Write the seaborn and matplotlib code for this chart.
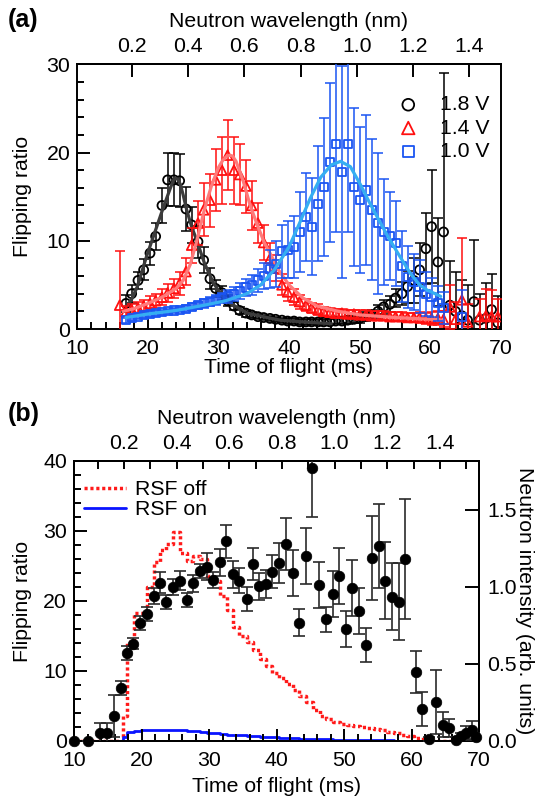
import numpy as np
import matplotlib
matplotlib.use("Agg")
import matplotlib.pyplot as plt
from matplotlib.ticker import MultipleLocator, FormatStrFormatter
import seaborn as sns

nan = np.nan

# ---------------- panel (a): flipping ratio for three RSF voltages ----------------
tof_a = [16.0, 16.9, 17.7, 18.6, 19.4, 20.3, 21.1, 22.0, 22.8, 23.7,
         24.5, 25.4, 26.2, 27.1, 27.9, 28.8, 29.6, 30.5, 31.3, 32.2,
         33.0, 33.9, 34.7, 35.6, 36.4, 37.3, 38.1, 39.0, 39.8, 40.7,
         41.5, 42.4, 43.2, 44.1, 44.9, 45.8, 46.6, 47.5, 48.3, 49.2,
         50.0, 50.9, 51.7, 52.6, 53.4, 54.3, 55.1, 56.0, 56.8, 57.7,
         58.5, 59.4, 60.2, 61.1, 61.9, 62.8, 63.6, 64.5, 65.3, 66.2,
         67.0, 67.9, 68.7, 69.6]

ratio_18 = [nan, 2.9, 4.0, 5.5, 6.7, 8.6, 10.5, 14.0, 16.9, 16.9,
            16.8, 13.6, 11.8, 9.9, 7.8, 5.7, 4.6, 4.1, 3.2, 2.6,
            2.1, 1.8, 1.6, 1.4, 1.3, 1.2, 1.1, 1.0, 0.9, 0.9,
            0.8, 0.8, 0.8, 0.8, 0.8, 0.8, 0.9, 0.9, 1.0, 1.1,
            1.2, 1.4, 1.6, 2.0, 2.5, 2.8, 3.5, 4.0, 4.8, 5.5,
            6.7, 9.1, 11.6, 7.6, 11.0, 2.7, 2.0, 1.5, 1.0, 3.1,
            1.0, 1.2, 2.2, 0.7]
err_18 = [nan, 1.0, 1.0, 1.0, 1.2, 1.3, 1.5, 2.0, 3.0, 3.0,
          3.0, 2.5, 2.0, 1.8, 1.5, 1.2, 1.0, 0.8, 0.6, 0.5,
          0.4, 0.4, 0.3, 0.3, 0.3, 0.3, 0.3, 0.3, 0.3, 0.3,
          0.3, 0.3, 0.3, 0.3, 0.3, 0.3, 0.3, 0.3, 0.4, 0.4,
          0.5, 0.5, 0.6, 0.7, 0.8, 0.9, 1.0, 1.3, 1.8, 2.5,
          3.0, 4.0, 6.4, 5.0, 18.0, 5.0, 4.5, 4.0, 4.0, 7.0,
          3.0, 4.0, 4.0, 3.0]

ratio_14 = [2.7, 2.0, 2.2, 2.4, 2.6, 2.9, 3.2, 3.6, 4.1, 4.6,
            5.2, 6.5, 9.5, 12.0, 13.5, 14.6, 16.9, 18.0, 19.7, 18.0,
            17.5, 16.2, 14.0, 12.0, 9.8, 8.0, 6.9, 5.0, 4.2, 3.6,
            3.1, 2.7, 2.4, 2.2, 2.0, 1.9, 1.8, 1.8, 1.7, 1.7,
            1.6, 1.6, 1.5, 1.5, 1.5, 1.4, 1.4, 1.4, 1.3, 1.3,
            1.3, 1.2, 1.2, 1.2, 1.1, 2.5, 1.1, 3.3, 0.8, nan,
            1.4, 1.5, 1.4, 1.4]
err_14 = [6.1, 0.6, 0.6, 0.7, 0.7, 0.8, 0.8, 0.9, 1.0, 1.1,
          1.3, 1.5, 2.0, 2.5, 3.0, 3.0, 3.5, 3.8, 4.0, 3.8,
          3.5, 3.0, 2.8, 2.3, 2.0, 1.7, 1.5, 1.2, 1.0, 0.9,
          0.8, 0.7, 0.6, 0.6, 0.5, 0.5, 0.5, 0.5, 0.5, 0.5,
          0.5, 0.5, 0.5, 0.5, 0.5, 0.5, 0.5, 0.5, 0.5, 0.5,
          0.6, 0.6, 0.7, 0.8, 0.9, 2.5, 2.0, 7.0, 2.0, nan,
          2.0, 3.0, 3.0, 2.0]

ratio_10 = [nan, 1.0, 1.2, 1.4, 1.6, 1.7, 1.8, 1.9, 2.0, 2.1,
            2.2, 2.3, 2.5, 2.7, 2.9, 3.1, 3.3, 3.5, 3.7, 4.0,
            4.3, 4.7, 5.0, 5.5, 6.0, 6.8, 7.4, 8.8, 9.0, 9.3,
            11.0, 12.7, 11.6, 14.2, 16.1, 18.9, 21.0, 17.8, 21.0, 16.1,
            14.6, 15.7, 13.5, 12.0, 11.0, 10.5, 9.7, 7.1, 5.9, 5.3,
            4.8, 4.0, 3.6, 2.9, 2.4, nan, nan, 1.4, nan, nan,
            nan, nan, nan, nan]
err_10 = [nan, 0.3, 0.3, 0.3, 0.3, 0.3, 0.3, 0.3, 0.3, 0.3,
          0.3, 0.4, 0.4, 0.4, 0.5, 0.5, 0.6, 0.6, 0.7, 0.8,
          0.9, 1.0, 1.1, 1.3, 1.5, 2.2, 2.6, 3.0, 3.2, 3.5,
          4.5, 5.0, 5.5, 6.5, 7.8, 9.0, 10.0, 12.0, 10.0, 9.0,
          8.3, 8.5, 8.0, 8.0, 6.0, 5.0, 4.8, 4.0, 3.5, 3.2,
          3.0, 2.5, 2.2, 2.0, 1.8, nan, nan, 3.0, nan, nan,
          nan, nan, nan, nan]

# fitted curves
fit_t_18 = [16.9, 17.6, 18.5, 19.8, 21.0, 22.2, 23.2, 23.6, 23.9, 24.2,
            24.6, 25.0, 25.5, 26.2, 26.9, 28.0, 29.3, 30.5, 31.7, 34.1,
            36.9, 38.8, 42.0, 46.0]
fit_18 = [2.6, 3.2, 4.8, 8.2, 11.0, 13.8, 16.0, 16.8, 17.1, 17.0,
          16.4, 15.2, 13.5, 11.6, 10.1, 7.5, 5.2, 3.8, 2.9, 1.8,
          1.3, 1.0, 0.8, 0.6]
fit_t_14 = [16.5, 18.0, 20.0, 22.0, 24.0, 25.0, 26.0, 27.0, 28.0, 29.0,
            30.0, 30.6, 31.2, 31.6, 32.0, 32.5, 33.5, 34.5, 35.5, 36.5,
            37.5, 38.5, 40.0, 42.0, 44.0, 47.0, 50.0, 55.0, 60.0, 62.0]
fit_14 = [2.0, 2.3, 2.9, 3.6, 4.6, 5.5, 7.3, 10.2, 13.5, 16.2,
          18.3, 19.1, 19.6, 19.7, 19.6, 19.0, 16.8, 14.0, 11.8, 9.8,
          8.3, 6.7, 5.0, 3.5, 2.6, 2.0, 1.6, 1.3, 1.1, 1.0]
fit_t_10 = [16.9, 20.0, 24.0, 28.0, 31.0, 34.0, 36.0, 38.0, 40.0, 41.5,
            43.0, 44.5, 46.0, 47.3, 48.7, 50.1, 51.3, 52.5, 54.0, 55.5,
            57.2, 58.5, 59.6, 61.5]
fit_10 = [1.3, 1.7, 2.1, 2.7, 3.2, 4.0, 5.0, 6.8, 9.3, 12.0,
          14.8, 17.2, 18.6, 19.0, 18.4, 16.4, 14.5, 12.7, 10.5, 8.5,
          6.3, 5.0, 4.4, 3.7]

voltage_labels = ["1.8 V", "1.4 V", "1.0 V"]

# ---------------- panel (b): flipping ratio and neutron intensity ----------------
tof_b = [10.0, 12.0, 13.9, 14.9, 15.9, 16.9, 17.8, 18.8, 19.8, 20.8,
         21.9, 22.7, 23.7, 24.7, 25.7, 26.7, 27.7, 28.7, 29.7, 30.6,
         31.6, 32.5, 33.5, 34.5, 35.6, 36.5, 37.4, 38.4, 39.4, 40.4,
         41.4, 42.4, 43.4, 44.4, 45.3, 46.3, 47.3, 48.3, 49.3, 50.3,
         51.2, 52.2, 53.2, 54.2, 55.2, 56.1, 57.1, 58.1, 59.1, 60.6,
         61.6, 62.6, 63.6, 64.6, 65.6, 66.6, 67.4, 68.1, 68.9, 69.6]
ratio_b = [0.0, 0.0, 1.1, 1.1, 3.5, 7.6, 12.5, 13.9, 16.8, 18.1,
           20.7, 22.6, 19.9, 22.0, 22.9, 20.2, 22.5, 24.3, 24.9, 23.0,
           25.5, 28.5, 23.8, 22.9, 20.3, 25.3, 22.1, 22.4, 24.2, 25.4,
           28.1, 24.0, 16.9, 26.4, 39.0, 22.3, 17.4, 21.0, 23.6, 16.0,
           21.8, 18.6, 13.7, 26.2, 27.8, 22.9, 20.6, 19.9, 26.0, 9.8,
           4.6, 0.3, 5.6, 2.3, 1.8, 0.1, 0.7, 1.2, 1.6, 0.6]
err_b = [0.0, 0.0, 1.4, 1.4, 3.0, 1.0, 1.0, 0.8, 1.0, 1.0,
         1.1, 1.5, 1.0, 1.2, 1.4, 1.0, 1.2, 1.0, 1.9, 1.2,
         1.9, 2.3, 1.9, 1.8, 1.7, 2.3, 1.9, 2.0, 2.4, 2.9,
         3.7, 3.3, 1.9, 4.0, 7.0, 3.3, 1.8, 3.3, 4.0, 2.6,
         4.0, 3.3, 2.4, 6.0, 6.0, 5.5, 4.8, 5.5, 8.6, 3.0,
         2.4, 0.3, 4.6, 1.8, 1.3, 0.4, 0.5, 1.0, 1.3, 0.5]

bin_t = [10.0, 17.2, 17.9, 18.9, 19.9, 20.8, 21.8, 22.8, 23.7, 24.7,
         25.7, 26.7, 27.7, 28.7, 29.7, 30.6, 31.6, 32.6, 33.5, 34.5,
         35.6, 36.5, 37.5, 38.4, 39.4, 40.4, 41.4, 42.4, 43.4, 44.4,
         45.4, 46.4, 47.4, 48.4, 49.4, 50.4, 51.4, 52.4, 53.4, 54.4,
         55.4, 56.4, 57.4, 58.4, 59.4, 60.4, 61.4, 62.4, 70.0]
rsf_off = [0.0, 0.16, 0.64, 0.83, 0.83, 1.00, 1.16, 1.24, 1.28, 1.36,
           1.22, 1.17, 1.20, 1.18, 1.07, 1.04, 0.94, 0.85, 0.74, 0.68,
           0.64, 0.59, 0.53, 0.49, 0.44, 0.41, 0.37, 0.33, 0.29, 0.25,
           0.20, 0.16, 0.14, 0.12, 0.11, 0.105, 0.10, 0.09, 0.085, 0.08,
           0.07, 0.06, 0.05, 0.04, 0.03, 0.02, 0.01, 0.0, 0.0]
rsf_on = [0.0, 0.027, 0.061, 0.066, 0.068, 0.070, 0.071, 0.072, 0.073, 0.073,
          0.070, 0.066, 0.062, 0.058, 0.054, 0.050, 0.046, 0.042, 0.039, 0.036,
          0.033, 0.030, 0.028, 0.026, 0.024, 0.022, 0.020, 0.018, 0.016, 0.015,
          0.013, 0.012, 0.010, 0.009, 0.008, 0.007, 0.006, 0.006, 0.005, 0.005,
          0.004, 0.004, 0.003, 0.003, 0.002, 0.002, 0.002, 0.001, 0.001]
rsf_labels = ["RSF off", "RSF on"]

tof_ticks = [10, 20, 30, 40, 50, 60, 70]
lam_ticks = [0.2, 0.4, 0.6, 0.8, 1.0, 1.2, 1.4]
lam_minor_b = [0.1, 0.3, 0.5, 0.7, 0.9, 1.1, 1.3, 1.5]
intensity_ticks = [0.0, 0.5, 1.0, 1.5]

# ---------------- style ----------------
sns.set_theme(style="ticks")
plt.rcParams["font.family"] = ["Liberation Sans", "DejaVu Sans"]
plt.rcParams.update({
    "font.size": 15.3, "axes.labelsize": 15.3, "xtick.labelsize": 15.3,
    "ytick.labelsize": 15.3, "legend.fontsize": 15.3,
    "axes.linewidth": 1.4, "axes.edgecolor": "black",
    "xtick.color": "black", "ytick.color": "black",
    "text.color": "black", "axes.labelcolor": "black",
})

fig = plt.figure(figsize=(5.41, 7.97), dpi=100)
ax_a = fig.add_axes([0.1429, 0.5872, 0.7826, 0.3321])
ax_b = fig.add_axes([0.1368, 0.0703, 0.7486, 0.3513])


def format_tof_axis(ax, ymax, ymajor):
    ax.set_xlim(10, 70)
    ax.set_ylim(0, ymax)
    ax.set_xticks(tof_ticks)
    ax.xaxis.set_minor_locator(MultipleLocator(2))
    ax.yaxis.set_major_locator(MultipleLocator(ymajor))
    ax.yaxis.set_minor_locator(MultipleLocator(2))
    ax.tick_params(axis="x", which="both", direction="in", bottom=True, top=False, width=1.4, pad=7)
    ax.tick_params(axis="y", which="both", direction="in", left=True, right=False, width=1.4, pad=5)
    ax.tick_params(which="major", length=9)
    ax.tick_params(which="minor", length=5)
    ax.set_xlabel("Time of flight (ms)")
    ax.set_ylabel("Flipping ratio")


# ---------------- panel (a) ----------------
format_tof_axis(ax_a, 30, 10)

series = [
    (ratio_18, err_18, fit_t_18, fit_18, "o", 42, "black", "#3c3c3c"),
    (ratio_14, err_14, fit_t_14, fit_14, "^", 48, "#ff1010", "#ff7a7a"),
    (ratio_10, err_10, fit_t_10, fit_10, "s", 34, "#1a55f2", "#35aef2"),
]
z = 2
for (vals, errs, ft, fv, mk, size, col, fitcol), lab in zip(series, voltage_labels):
    ax_a.errorbar(tof_a, vals, yerr=errs, fmt="none", ecolor=col, elinewidth=1.1,
                  capsize=3.6, capthick=1.1, zorder=z)
    sns.scatterplot(x=tof_a, y=vals, marker=mk, s=size, facecolors="none",
                    edgecolor=col, linewidth=1.3, label=lab, legend=False,
                    zorder=z + 1, ax=ax_a)
    sns.lineplot(x=ft, y=fv, color=fitcol, lw=2.3, legend=False,
                 errorbar=None, zorder=z + 2, ax=ax_a)
    z += 3

ax_a.legend(loc="upper right", bbox_to_anchor=(0.994, 0.915), frameon=False,
            handlelength=1.0, handletextpad=1.0, labelspacing=0.2,
            borderaxespad=0, borderpad=0.4, markerscale=1.3)

sec_a = ax_a.secondary_xaxis("top", functions=(lambda t: (t - 9.8) / 39.8,
                                               lambda w: w * 39.8 + 9.8))
sec_a.set_xticks(lam_ticks)
sec_a.xaxis.set_major_formatter(FormatStrFormatter("%.1f"))
sec_a.tick_params(direction="in", length=9, width=1.4, pad=6)
sec_a.set_xlabel("Neutron wavelength (nm)")
sec_a.xaxis.set_label_coords(0.5, 1.14, transform=ax_a.transAxes)

ax_a.xaxis.set_label_coords(0.5, -0.11)
ax_a.yaxis.set_label_coords(-0.107, 0.5)

# ---------------- panel (b) ----------------
format_tof_axis(ax_b, 40, 10)
ax_int = ax_b.twinx()
ax_b.set_zorder(ax_int.get_zorder() + 1)
ax_b.patch.set_visible(False)

sns.lineplot(x=bin_t, y=rsf_off, color="#ff1a1a", lw=2.5, linestyle=(0, (0.9, 0.8)),
             drawstyle="steps-post", legend=False, errorbar=None, label=rsf_labels[0], ax=ax_int)
sns.lineplot(x=bin_t, y=rsf_on, color="#0a14ff", lw=2.0,
             drawstyle="steps-post", legend=False, errorbar=None, label=rsf_labels[1], ax=ax_int)
ax_int.set_ylim(0, 1.818)
ax_int.set_yticks(intensity_ticks)
ax_int.yaxis.set_major_formatter(FormatStrFormatter("%.1f"))
ax_int.tick_params(axis="y", direction="in", length=10, width=1.4, pad=6)
ax_int.set_ylabel("Neutron intensity (arb. units)", rotation=270, va="bottom")
ax_int.yaxis.set_label_coords(1.09, 0.5)

ax_b.errorbar(tof_b, ratio_b, yerr=err_b, fmt="none", ecolor="#2a2a2a",
              elinewidth=1.2, capsize=4.6, capthick=1.2, zorder=3)
sns.scatterplot(x=tof_b, y=ratio_b, color="black", s=58, edgecolor="black",
                linewidth=0.5, legend=False, zorder=4, clip_on=False, ax=ax_b)

handles = ax_int.get_lines()[:2]
ax_b.legend(handles, rsf_labels, loc="upper left", bbox_to_anchor=(0.003, 0.962),
            frameon=False, handlelength=2.0, handletextpad=0.4, labelspacing=0.05,
            borderaxespad=0)

sec_b = ax_b.secondary_xaxis("top", functions=(lambda t: (t - 9.6) / 39.0,
                                               lambda w: w * 39.0 + 9.6))
sec_b.set_xticks(lam_ticks)
sec_b.set_xticks(lam_minor_b, minor=True)
sec_b.xaxis.set_major_formatter(FormatStrFormatter("%.1f"))
sec_b.tick_params(which="both", direction="in", length=5.5, width=1.4, pad=6)
sec_b.set_xlabel("Neutron wavelength (nm)")
sec_b.xaxis.set_label_coords(0.5, 1.133, transform=ax_b.transAxes)

ax_b.xaxis.set_label_coords(0.5, -0.13)
ax_b.yaxis.set_label_coords(-0.104, 0.5)

fig.text(8 / 541, 1 - 20 / 797, "(a)", fontsize=18, fontweight="bold", va="center", ha="left")
fig.text(8 / 541, 1 - 414 / 797, "(b)", fontsize=18, fontweight="bold", va="center", ha="left")

fig.savefig("out.png", dpi=100)
